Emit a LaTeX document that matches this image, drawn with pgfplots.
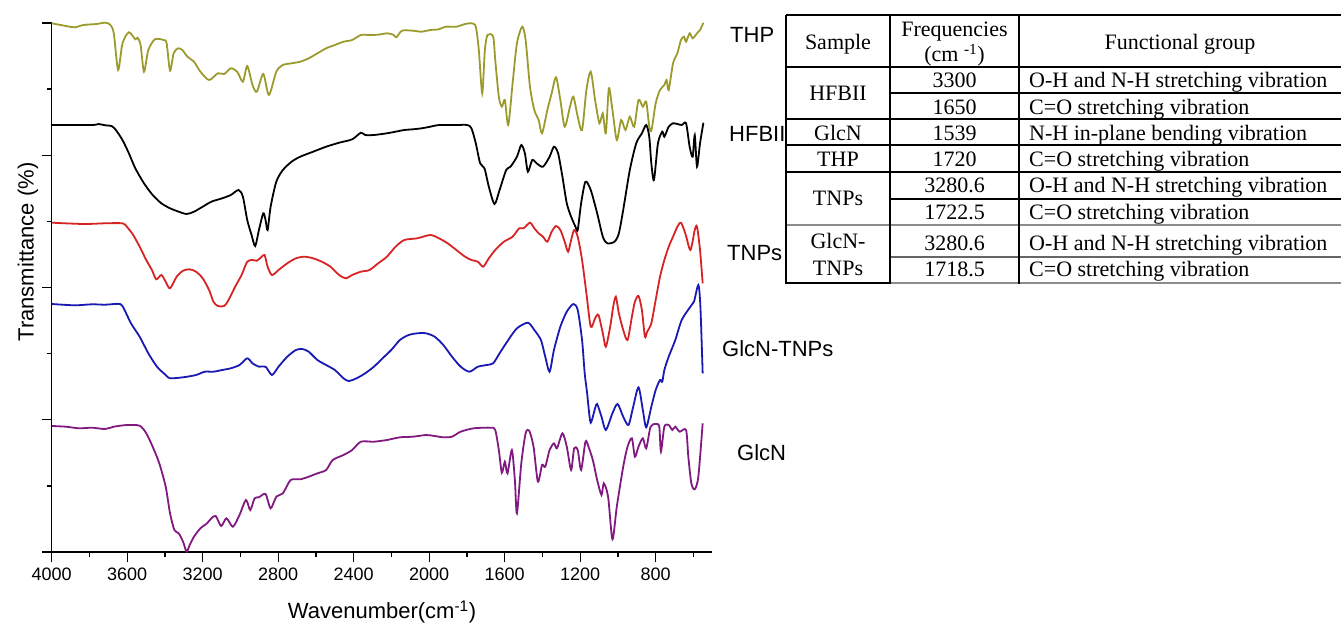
\documentclass[border=0pt]{standalone}
\usepackage{pgfplots}
\pgfplotsset{compat=1.18}
\usepackage{fontspec}
\setmainfont{Liberation Sans}
\newfontfamily\tabfont{Liberation Serif}

\definecolor{thpcol}{RGB}{155,155,45}
\definecolor{tnpcol}{RGB}{215,35,35}
\definecolor{gtnpcol}{RGB}{25,25,180}
\definecolor{glccol}{RGB}{128,25,128}

\newcommand{\lab}{\fontsize{22}{24}\selectfont}
\newcommand{\tab}{\tabfont\fontsize{22}{24}\selectfont}

\begin{document}
\begin{tikzpicture}
\path[use as bounding box] (0pt,0pt) rectangle (1341pt,-626pt);

\begin{axis}[
  at={(51.7pt,-552pt)}, anchor=south west,
  scale only axis, width=660.6pt, height=529pt,
  x dir=reverse, xmin=500, xmax=4000, ymin=0, ymax=529,
  enlargelimits=false, clip=false,
  axis x line=bottom, axis y line=left,
  axis line style={-, line width=1.5pt, black},
  tick align=outside,
  major tick length=9.5pt, minor tick length=5pt,
  tick style={line width=1.3pt, black},
  xtick={800,1200,...,4000}, minor xtick={600,1000,...,3800},
  ytick={0,132.25,264.5,396.75,529},
  minor ytick={66.125,198.375,330.625,462.875},
  yticklabels={},
  /pgf/number format/assume math mode=true,
  /pgf/number format/1000 sep={},
  xticklabel style={font=\fontsize{18}{20}\selectfont, yshift=-3pt},
  every axis plot/.append style={line width=1.8pt, smooth, tension=0.45},
]

% THP
\addplot[thpcol] table {
4000 528.7
3924 526
3878 524.7
3832 527
3763 528
3717 529.3
3690 527.3
3671 518.7
3648 482
3625 508.7
3591 519.7
3557 512.7
3545 514.3
3529 507
3511 480.3
3488 502
3453 512.7
3407 512
3391 508.7
3373 481.3
3354 498.7
3331 503.7
3308 502
3281 495.3
3246 490.3
3212 480.3
3166 472
3120 478.7
3086 478
3051 483.7
3017 480.3
2987 470.3
2964 486
2936 467
2913 460.3
2879 478
2849 457
2810 480.3
2775 487
2729 488.7
2683 490.3
2638 493.7
2592 498.7
2546 503.7
2500 507
2454 510.3
2408 512
2362 517
2316 517
2270 517.3
2224 518.7
2190 517.3
2174 514.7
2144 521.3
2086 521.3
2040 520.3
1994 522
1948 522.7
1914 525.3
1856 525.3
1810 528
1776 528.7
1753 525.3
1737 502
1719 458.7
1705 502
1691 517
1661 515.3
1650 492
1631 455.3
1615 445.3
1599 452
1581 427
1558 468.7
1535 508.7
1507 525.3
1489 512
1466 465.3
1443 442
1420 432
1402 418.7
1374 442
1351 458.7
1328 474.7
1305 452
1282 425.3
1254 445.3
1236 455.3
1213 435.3
1190 422
1167 462
1144 480.3
1121 452
1098 428.7
1080 438.7
1064 418.7
1048 463.7
1029 442
1006 412
983 432
960 422
937 435.3
914 425.3
891 452
868 445.3
850 450.3
834 425.3
822 422
800 448.7
777 462
754 467
742 472
731 462
708 488.7
685 498.7
666 512
650 515.3
639 510.3
620 518.7
604 513.7
581 518.7
565 522
547 529.3
};

% HFBII
\addplot[black] table {
3998 427
3786 427
3752 428
3717 426.7
3683 426
3660 422
3625 412
3591 398.7
3557 383.7
3511 368.7
3465 357
3419 348.7
3373 343.7
3327 340.3
3285 338
3246 340.3
3200 345.3
3154 350.3
3097 353.7
3051 357
3010 362
2987 355.3
2964 332
2941 317
2922 306
2902 322
2879 338.7
2867 332
2856 322
2840 345.3
2810 370.3
2775 382
2729 390.3
2683 395.3
2615 400.3
2546 405.3
2477 409.3
2408 412.7
2362 419.3
2339 417
2293 417
2224 418.7
2178 420.3
2132 422
2086 422.7
2040 423.7
1994 425.3
1948 427
1856 427
1799 427
1776 423.7
1753 408.7
1730 388.7
1707 383.7
1684 365.3
1654 348
1627 362
1592 382
1569 385.3
1535 395.3
1512 407
1493 398.7
1477 380.3
1454 392
1431 388.7
1397 385.3
1362 395.3
1339 405.3
1317 398.7
1294 375.3
1271 348.7
1248 335.3
1225 325.3
1213 322
1195 348.7
1172 370.3
1144 362
1110 338.7
1080 315.3
1057 308.7
1018 310.3
995 318.7
972 342
937 382
903 408.7
873 418.7
850 427
834 415.3
823 388.7
809 372
788 408.7
765 420.3
754 415.3
731 425.3
708 428.7
685 428
662 427
639 428.7
620 405.3
604 395.3
593 417
581 385.3
565 408.7
547 429.3
};

% TNPs
\addplot[tnpcol] table {
3998 329.3
3832 328
3717 328.7
3625 328.7
3602 325.3
3568 317
3534 305.3
3499 292
3469 282
3446 272.7
3419 277
3396 270.3
3373 263.7
3338 275.3
3304 281.3
3269 282.7
3235 280.3
3200 273.7
3166 262
3143 250.3
3120 246
3086 246
3063 252
3028 265.3
2994 277
2964 290.3
2936 292
2913 291.3
2890 294.7
2872 297
2856 285.3
2833 277
2798 282
2752 288.7
2706 293.7
2661 295.3
2615 293.7
2569 290.3
2523 285.3
2477 277
2442 273.7
2408 277
2362 280.3
2316 282
2270 288.7
2224 295.3
2178 305.3
2132 312
2063 313.7
1994 317
1948 313.7
1902 308.7
1856 302
1810 295.3
1776 292
1742 290.3
1714 285.3
1684 293.7
1650 302
1604 310.3
1558 315.3
1523 323.7
1500 323.7
1466 329.3
1443 323.7
1420 318.7
1397 315.3
1374 310.3
1351 320.3
1328 326
1305 322
1282 310.3
1264 300.3
1248 312
1232 322
1213 315.3
1190 292
1167 258.7
1144 225.3
1121 233.7
1103 237
1080 218.7
1064 205.3
1041 225.3
1025 245.3
1011 255.3
995 238.7
972 222
949 212
926 235.3
910 250.3
891 256
873 242
857 215.3
845 220.3
823 228.7
800 252
777 275.3
754 292
731 305.3
708 315.3
685 325.3
666 329.3
643 318.7
616 302
593 322
581 325.3
565 302
551 268.7
};

% GlcN-TNPs
\addplot[gtnpcol] table {
3998 248
3878 246.7
3786 247.7
3717 247.3
3637 248
3614 242
3580 228.7
3534 215.3
3488 198.7
3442 185.3
3396 177
3373 173.7
3304 174.7
3235 177
3189 180.3
3143 180.3
3097 182
3051 183.7
3005 187
2964 193.7
2936 188.7
2902 185.3
2867 185.3
2833 177
2798 185.3
2752 195.3
2706 202
2672 203
2638 200.3
2592 192
2546 187
2500 182
2454 173.7
2426 171
2385 173.7
2339 178.7
2293 185.3
2247 193.7
2201 202
2155 212
2109 217
2063 218.7
2017 218.7
1971 215.3
1925 207
1879 195.3
1833 185.3
1787 180.3
1742 185.3
1696 187
1661 188.7
1627 198.7
1581 212
1535 223.7
1477 229.3
1443 222
1408 212
1385 195.3
1362 180.3
1339 202
1305 225.3
1271 240.3
1236 248
1213 242
1190 212
1176 178.7
1163 158.7
1156 145.3
1144 129.3
1121 143.7
1110 148
1087 135.3
1064 122
1029 138.7
1002 148
972 135.3
944 127
919 145.3
891 164.7
868 142
850 124.7
823 145.3
800 162
777 172
765 170.3
754 182
731 195.3
696 212
662 232
616 245.3
597 250.3
574 267
563 245.3
551 178.7
};

% GlcN
\addplot[glccol] table {
3998 126
3924 125.3
3855 123.7
3786 124.3
3717 123
3671 125.3
3602 127
3534 126.3
3499 118.7
3465 105.3
3430 88.7
3396 65.3
3373 38.7
3350 22
3327 18.7
3304 10.3
3285 0.3
3269 7
3246 15.3
3212 23.7
3177 28.7
3154 33.7
3131 36
3102 26
3074 33.7
3040 25.3
3005 37
2971 52
2948 42
2925 53.7
2902 54.7
2867 58
2840 43.7
2810 55.3
2775 58.7
2734 72
2683 72.7
2638 75.3
2592 78.7
2546 82
2511 92
2454 97
2408 102
2362 110.3
2293 110.3
2224 112
2155 114.7
2086 115.3
2017 117
1971 116
1925 114.7
1879 115.3
1833 120.3
1764 123.7
1673 124.3
1650 122
1631 102
1615 79.3
1599 90.3
1585 78.7
1562 102
1546 72
1535 38.7
1512 88.7
1489 118.7
1470 121.3
1447 105.3
1424 70.3
1402 87
1385 85.3
1362 102
1339 108.7
1323 103.7
1294 118.7
1271 105.3
1248 82
1232 103.7
1213 102
1195 82
1172 110.3
1156 105.3
1133 92
1110 72
1087 57
1075 68.7
1052 55.3
1029 12.7
1006 45.3
972 85.3
949 105.3
926 113.7
910 95.3
891 105.3
868 113.7
850 103.7
827 125.3
800 128
781 125.3
772 100.3
754 125.3
731 127
712 122
696 125.3
673 120.3
639 122
627 95.3
611 68.7
593 62.7
574 75.3
551 128.7
};
\end{axis}

% axis titles
\node[font=\lab, rotate=90] at (28pt,-252pt) {Transmittance (\%)};
\node[font=\lab] at (382pt,-612pt) {Wavenumber(cm\textsuperscript{-1})};

% series names
\node[font=\lab, anchor=west, inner sep=0pt] at (730pt,-35pt) {THP};
\node[font=\lab, anchor=west, inner sep=0pt] at (729pt,-134pt) {HFBII};
\node[font=\lab, anchor=west, inner sep=0pt] at (727pt,-253pt) {TNPs};
\node[font=\lab, anchor=west, inner sep=0pt] at (722pt,-349pt) {GlcN-TNPs};
\node[font=\lab, anchor=west, inner sep=0pt] at (737pt,-453pt) {GlcN};

% assignment table
\begin{scope}[x=1pt, y=1pt]
\draw[line width=1.8pt] (786,-15) -- (1341,-15);
\draw[line width=1.8pt] (786,-67) -- (1341,-67);
\draw[line width=1.5pt] (890,-93) -- (1341,-93);
\draw[line width=1.5pt] (786,-119) -- (1341,-119);
\draw[line width=1.5pt] (786,-145) -- (1341,-145);
\draw[line width=1.5pt] (786,-172) -- (1341,-172);
\draw[line width=1.5pt] (890,-199) -- (1341,-199);
\draw[line width=1.6pt, black!45] (786,-225) -- (1341,-225);
\draw[line width=1.2pt, black!60] (890,-257) -- (1341,-257);
\draw[line width=1.5pt, black!45] (890,-283) -- (1341,-283);
\draw[line width=2pt] (786,-283) -- (890,-283);
\draw[line width=2.2pt] (786,-15) -- (786,-284);
\draw[line width=2.2pt] (890,-15) -- (890,-284);
\draw[line width=1.5pt] (1019,-15) -- (1019,-284);

\tikzset{tc/.style={font=\tab, anchor=base, inner sep=0pt},
         tl/.style={font=\tab, anchor=base west, inner sep=0pt}}
\node[tc] at (838,-50) {Sample};
\node[tc] at (954.5,-36.5) {Frequencies};
\node[tc] at (954.5,-62) {(cm \textsuperscript{-1})};
\node[tc] at (1180,-50) {Functional group};

\node[tc] at (838,-100) {HFBII};
\node[tc] at (838,-140) {GlcN};
\node[tc] at (838,-166.5) {THP};
\node[tc] at (838,-205) {TNPs};
\node[tc] at (838,-248.5) {GlcN-};
\node[tc] at (838,-275) {TNPs};

\node[tc] at (954.5,-88) {3300};
\node[tc] at (954.5,-114) {1650};
\node[tc] at (954.5,-140) {1539};
\node[tc] at (954.5,-166.5) {1720};
\node[tc] at (954.5,-192.5) {3280.6};
\node[tc] at (954.5,-219) {1722.5};
\node[tc] at (954.5,-250) {3280.6};
\node[tc] at (954.5,-276.5) {1718.5};

\node[tl] at (1029,-88) {O-H and N-H stretching vibration};
\node[tl] at (1029,-114) {C=O stretching vibration};
\node[tl] at (1029,-140) {N-H in-plane bending vibration};
\node[tl] at (1029,-166.5) {C=O stretching vibration};
\node[tl] at (1029,-192.5) {O-H and N-H stretching vibration};
\node[tl] at (1029,-219) {C=O stretching vibration};
\node[tl] at (1029,-250) {O-H and N-H stretching vibration};
\node[tl] at (1029,-276.5) {C=O stretching vibration};
\end{scope}
\end{tikzpicture}
\end{document}
